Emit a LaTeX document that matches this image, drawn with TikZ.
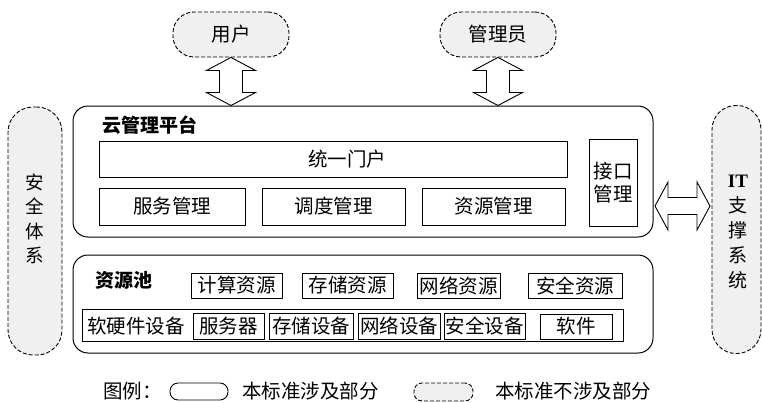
\documentclass[tikz,border=0pt]{standalone}
\usepackage{fontspec}
\newfontfamily\cjk{Noto Sans CJK SC}
\newfontfamily\lserif{Liberation Serif}
\usetikzlibrary{calc}
\tikzset{
  base/.style={inner sep=0pt, font=\cjk\fontsize{19.5}{24}\selectfont},
  box/.style={base, draw, line width=0.9pt, rectangle},
  frame/.style={draw, line width=1pt, rounded corners=15pt, rectangle, inner sep=0pt},
  dpill/.style={base, draw, line width=0.9pt, dash pattern=on 4pt off 2pt, fill=gray!12, rectangle},
  lbl/.style={inner sep=0pt, font=\cjk\bfseries\fontsize{19}{22}\selectfont},
  txt/.style={inner sep=0pt, font=\cjk\fontsize{19.5}{24}\selectfont},
  blockarrow/.style={draw, line width=0.9pt, fill=white, line join=miter},
}
\newcommand\vdblarrow[2]{\draw[blockarrow] (#1) -- ++(24.5,13) -- ++(-13,0) -- ($(#2)+(11.5,-13)$) -- ++(13,0) -- (#2) -- ++(-24.5,-13) -- ++(13,0) -- ($(#1)+(-11.5,13)$) -- ++(-13,0) -- cycle;}
\newcommand\hdblarrow[2]{\draw[blockarrow] (#1) -- ++(13,-24) -- ++(0,15.5) -- ($(#2)+(-13,-8.5)$) -- ++(0,-15.5) -- (#2) -- ++(-13,24) -- ++(0,-15.5) -- ($(#1)+(13,8.5)$) -- ++(0,15.5) -- cycle;}
\begin{document}
\begin{tikzpicture}[x=1pt,y=-1pt]
\useasboundingbox (0,0) rectangle (762,402);
% top pills
\node[dpill, rounded corners=21pt, minimum width=116pt, minimum height=45pt] (user) at (231,34.5) {用户};
\node[dpill, rounded corners=21pt, minimum width=116pt, minimum height=45pt] (admin) at (498,34.5) {管理员};
% side pills
\node[dpill, rounded corners=25pt, minimum width=54pt, minimum height=248pt] (sec) at (35,231) {};
\node[txt, align=center, font=\cjk\fontsize{18.5}{24.5}\selectfont] (sectxt) at (35,219) {安\\全\\体\\系};
\node[dpill, rounded corners=24pt, minimum width=49pt, minimum height=248pt] (it) at (736.5,229.5) {};
\node[txt, align=center, font=\cjk\fontsize{19}{25}\selectfont] (ittxt) at (738,232.5) {{\lserif\bfseries IT}\\支\\撑\\系\\统};
% cloud management platform
\node[frame, minimum width=580pt, minimum height=131pt] (cloud) at (363,171.5) {};
\node[lbl, anchor=west] (cloudlbl) at (102,125) {云管理平台};
\node[box, minimum width=468pt, minimum height=36pt] (portal) at (333,159) {\hspace*{28pt}统一门户};
\node[box, minimum width=146pt, minimum height=37pt] (svc) at (172,206.5) {服务管理};
\node[box, minimum width=143pt, minimum height=37pt] (sch) at (333.5,206.5) {调度管理};
\node[box, minimum width=143pt, minimum height=37pt] (res) at (493.5,206.5) {资源管理};
\node[box, align=center, minimum width=48pt, minimum height=87pt, font=\cjk\fontsize{19.5}{23}\selectfont] (api) at (613,182.5) {接口\\管理};
% resource pool
\node[frame, minimum width=580pt, minimum height=98pt] (pool) at (363,304) {};
\node[lbl, anchor=west] (poollbl) at (95,280) {资源池};
\node[box, minimum width=91pt, minimum height=25pt] (r1) at (236.5,285.5) {计算资源};
\node[box, minimum width=91pt, minimum height=25pt] (r2) at (347.5,285.5) {存储资源};
\node[box, minimum width=83pt, minimum height=25pt] (r3) at (458.5,285.5) {网络资源};
\node[box, minimum width=94pt, minimum height=25pt] (r4) at (575,285.5) {安全资源};
\node[box, minimum width=541pt, minimum height=32pt] (hw) at (352.5,325) {};
\node[txt, anchor=west] (hwtxt) at (87,326) {软硬件设备};
\node[box, minimum width=71pt, minimum height=26pt] (d1) at (228.5,326) {服务器};
\node[box, minimum width=84pt, minimum height=26pt] (d2) at (311,326) {存储设备};
\node[box, minimum width=82pt, minimum height=26pt] (d3) at (399,326) {网络设备};
\node[box, minimum width=81pt, minimum height=26pt] (d4) at (484.5,326) {安全设备};
\node[box, minimum width=72pt, minimum height=25pt] (d5) at (576,326.5) {软件};
% arrows
\coordinate (ua) at (user.south |- cloud.north);
\coordinate (aa) at (admin.south |- cloud.north);
\vdblarrow{user.south}{ua}
\vdblarrow{admin.south}{aa}
\coordinate (ha) at (655,206);
\coordinate (hb) at (710,206);
\hdblarrow{ha}{hb}
% legend
\node[txt, anchor=west] (legtxt) at (103,391) {图例：};
\node[draw, line width=0.9pt, rectangle, rounded corners=8pt, minimum width=58pt, minimum height=17pt, inner sep=0pt] (leg1) at (199,391.5) {};
\node[txt, anchor=west] (leg1txt) at (242,391) {本标准涉及部分};
\node[dpill, rounded corners=8pt, minimum width=59pt, minimum height=18pt] (leg2) at (443.5,392) {};
\node[txt, anchor=west] (leg2txt) at (495,391) {本标准不涉及部分};
\end{tikzpicture}
\end{document}
